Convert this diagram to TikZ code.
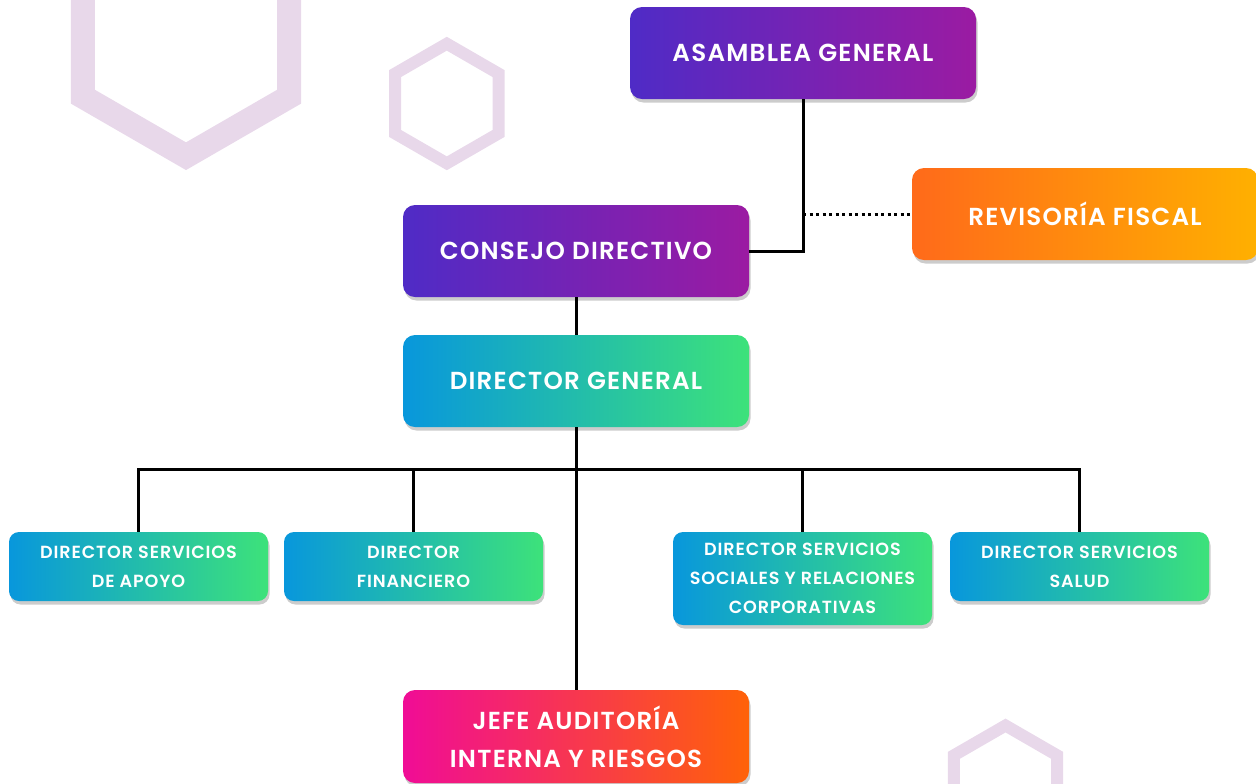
\documentclass[tikz,border=0pt]{standalone}
\usepackage{fontspec}
\usepackage{tikz}
\usepackage{xcolor}
\usetikzlibrary{shadows}
\newfontfamily\boxfont{Poppins}[LetterSpace=5,UprightFont=* SemiBold]
\definecolor{purpleL}{HTML}{4F2BC6}
\definecolor{purpleR}{HTML}{9B1BA2}
\definecolor{orangeL}{HTML}{FF6A1A}
\definecolor{orangeR}{HTML}{FFB000}
\definecolor{blueL}{HTML}{0897DC}
\definecolor{greenR}{HTML}{3DE27A}
\definecolor{pinkL}{HTML}{F00C96}
\definecolor{pinkR}{HTML}{FF6208}
\definecolor{hexpink}{HTML}{E8D8EA}

\begin{document}
\begin{tikzpicture}[
    box/.style={rounded corners=0.24cm, text=white, align=center, inner sep=0pt,
        minimum width=6.92cm, minimum height=1.84cm,
        drop shadow={shadow xshift=0.03cm, shadow yshift=-0.07cm, fill=black, opacity=0.2},
        font=\boxfont\fontsize{14}{21.6}\selectfont},
    smallbox/.style={box, rounded corners=0.2cm, minimum width=5.18cm, minimum height=1.38cm,
        font=\boxfont\fontsize{10}{16.5}\selectfont},
    purplebox/.style={left color=purpleL, right color=purpleR},
    orangebox/.style={left color=orangeL, right color=orangeR},
    greenbox/.style={left color=blueL, right color=greenR},
    pinkbox/.style={left color=pinkL, right color=pinkR},
    link/.style={line width=0.06cm, black},
    hexline/.style={draw=hexpink, line width=0.24cm}
]
    \useasboundingbox (0,0) rectangle (25.12,-15.66);

    \draw[hexline, line width=0.48cm, shift={(3.72,-0.74)}] (90:2.384) -- (150:2.384) -- (210:2.384) -- (270:2.384) -- (330:2.384) -- (30:2.384) -- cycle;
    \draw[hexline, shift={(8.936,-2.07)}] (90:1.196) -- (150:1.196) -- (210:1.196) -- (270:1.196) -- (330:1.196) -- (30:1.196) -- cycle;
    \draw[hexline, shift={(20.11,-15.70)}] (90:1.19) -- (150:1.19) -- (210:1.19) -- (270:1.19) -- (330:1.19) -- (30:1.19) -- cycle;

    \node[box, purplebox] (asamblea)  at (16.06,-1.06) {ASAMBLEA GENERAL};
    \node[box, orangebox] (revisoria) at (21.70,-4.28) {REVISORÍA FISCAL};
    \node[box, purplebox] (consejo)   at (11.52,-5.02) {CONSEJO DIRECTIVO};
    \node[box, greenbox]  (general)   at (11.52,-7.62) {DIRECTOR GENERAL};
    \node[smallbox, greenbox] (apoyo)      at (2.77,-11.33)  {DIRECTOR SERVICIOS\\DE APOYO};
    \node[smallbox, greenbox] (financiero) at (8.27,-11.33)  {DIRECTOR\\FINANCIERO};
    \node[smallbox, greenbox, minimum height=1.86cm] (sociales) at (16.05,-11.57) {DIRECTOR SERVICIOS\\SOCIALES Y RELACIONES\\CORPORATIVAS};
    \node[smallbox, greenbox] (salud)      at (21.59,-11.33) {DIRECTOR SERVICIOS\\SALUD};
    \node[box, pinkbox, minimum height=1.86cm] (jefe) at (11.52,-14.73) {JEFE AUDITORÍA\\INTERNA Y RIESGOS};

    \coordinate (tap) at (asamblea.south |- revisoria.west);
    \coordinate (bus) at (11.52,-9.38);

    \draw[link] (asamblea.south) |- (consejo.east);
    \draw[link, dotted] (tap) -- (revisoria.west);
    \draw[link] (consejo.south) -- (general.north);
    \draw[link] (general.south) -- (jefe.north);
    \draw[link] (apoyo.north) |- (bus) -| (salud.north);
    \draw[link] (financiero.north) -- (financiero.north |- bus);
    \draw[link] (sociales.north) -- (sociales.north |- bus);
\end{tikzpicture}
\end{document}
